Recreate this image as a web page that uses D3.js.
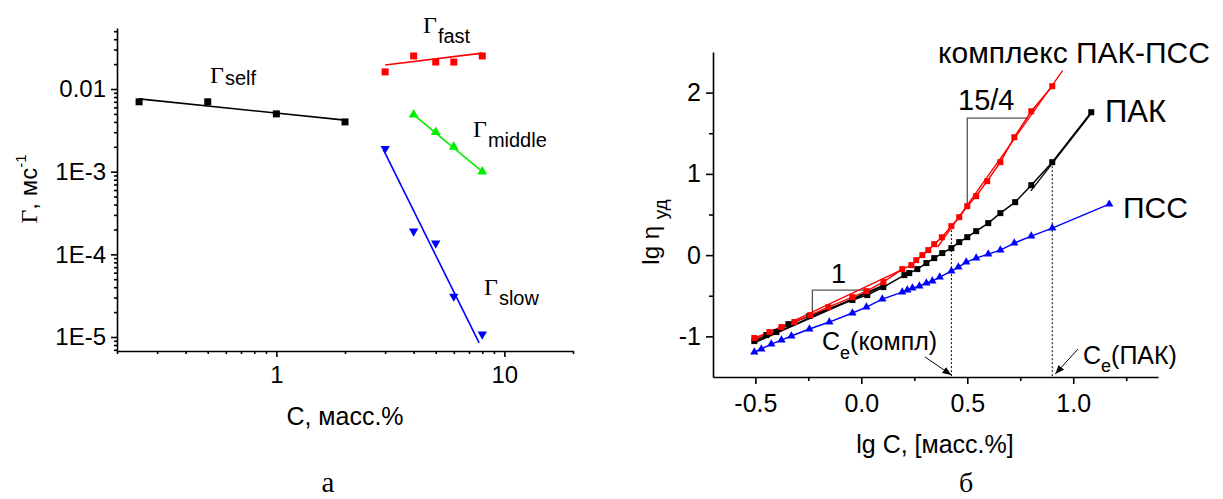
<!DOCTYPE html>
<html>
<head>
<meta charset="utf-8">
<script src="https://cdn.jsdelivr.net/npm/d3@7"></script>
<style>
  body { margin: 0; background: #fff; }
  text { font-family: "Liberation Sans", Arial, sans-serif; fill: #000; }
  .serif { font-family: "Liberation Serif", "Times New Roman", serif; }
  .axis path, .axis line { stroke: #000; stroke-width: 1.6; }
</style>
</head>
<body>
<div id="chart"></div>
<script>
// ---- panel a: relaxation rates vs concentration (log-log) ----
var selfC = [0.25, 0.5, 1, 2];
var selfG = [0.0070, 0.0070, 0.0050, 0.0040];
var fastC = [3, 4, 5, 6, 8];
var fastG = [0.0161, 0.0251, 0.0212, 0.0212, 0.0251];
var middleC = [4, 5, 6, 8];
var middleG = [0.0049, 0.0030, 0.0020, 0.0010];
var slowC = [3, 4, 5, 6, 8];
var slowG = [0.0019, 0.00019, 0.000136, 0.000031, 0.0000108];

// fitted lines, end points [C, Γ]
var selfFit = [[0.25, 0.0076], [2, 0.0042]];
var fastFit = [[3, 0.0195], [8, 0.0272]];
var middleFit = [[4, 0.0049], [8, 0.0010]];
var slowFit = [[2.95, 0.00183], [7.75, 0.0000085]];

var leftXMajor = [1, 10];
var leftXMinor = [0.2, 0.3, 0.4, 0.5, 0.6, 0.7, 0.8, 0.9, 2, 3, 4, 5, 6, 7, 8, 9, 20];
var leftYMajor = [1e-5, 1e-4, 1e-3, 1e-2];
var leftYLabels = ["1E-5", "1E-4", "1E-3", "0.01"];

// ---- panel b: lg η vs lg C ----
var complX = [-0.505, -0.434, -0.377, -0.316, -0.241, -0.156, -0.042, 0.024, 0.104, 0.193, 0.236, 0.259, 0.288,
              0.316, 0.344, 0.38, 0.425, 0.462, 0.5, 0.542, 0.594, 0.656, 0.722, 0.802, 0.901];
var complY = [-1.02, -0.947, -0.886, -0.824, -0.738, -0.64, -0.517, -0.443, -0.332, -0.172, -0.123, -0.062, 0.0,
              0.062, 0.135, 0.22, 0.357, 0.467, 0.603, 0.726, 0.91, 1.144, 1.451, 1.771, 2.079];
var pakX = [-0.505, -0.448, -0.401, -0.344, -0.245, -0.042, 0.028, 0.104, 0.203, 0.226, 0.264, 0.307, 0.344,
            0.382, 0.425, 0.462, 0.5, 0.542, 0.599, 0.656, 0.726, 0.802, 0.901, 1.085];
var pakY = [-1.058, -0.984, -0.947, -0.849, -0.75, -0.553, -0.492, -0.394, -0.246, -0.221, -0.172, -0.098, -0.037,
            0.025, 0.086, 0.16, 0.221, 0.295, 0.394, 0.517, 0.652, 0.861, 1.144, 1.759];
var pssX = [-0.505, -0.472, -0.425, -0.377, -0.33, -0.245, -0.151, -0.042, 0.024, 0.099, 0.193, 0.217, 0.241, 0.274,
            0.307, 0.335, 0.37, 0.425, 0.458, 0.495, 0.542, 0.599, 0.656, 0.722, 0.802, 0.901, 1.17];
var pssY = [-1.193, -1.156, -1.095, -1.046, -0.996, -0.91, -0.824, -0.713, -0.64, -0.541, -0.455, -0.43, -0.406, -0.381,
            -0.344, -0.32, -0.27, -0.197, -0.148, -0.086, -0.037, 0.012, 0.062, 0.148, 0.234, 0.332, 0.627];

var complFitLow = [[-0.5, -1.03], [0.2, -0.17]];
var complFitHigh = [[0.36, 0.1], [0.95, 2.27]];
var pakFitLow = [[-0.5, -1.07], [0.1, -0.38]];
var pakFitHigh = [[0.8, 0.79], [1.09, 1.76]];

var slopeLow = [[-0.231, -0.726], [-0.231, -0.43], [0.024, -0.43]];
var slopeHigh = [[0.5, 0.603], [0.5, 1.685], [0.788, 1.685]];
var ceCompl = 0.425, ceComplTop = 0.357;
var cePak = 0.901, cePakTop = 1.144;

var rightXMajor = [-0.5, 0, 0.5, 1.0];
var rightXLabels = ["-0.5", "0.0", "0.5", "1.0"];
var rightXMinor = [-0.25, 0.25, 0.75, 1.25];
var rightYMajor = [-1, 0, 1, 2];
var rightYLabels = ["-1", "0", "1", "2"];
var rightYMinor = [-0.5, 0.5, 1.5];

var svg = d3.select("#chart").append("svg")
  .attr("width", 1223)
  .attr("height", 499);

var defs = svg.append("defs");
defs.append("marker")
  .attr("id", "arrow")
  .attr("viewBox", "0 0 10 10")
  .attr("refX", 10).attr("refY", 5)
  .attr("markerWidth", 9).attr("markerHeight", 9)
  .attr("markerUnits", "userSpaceOnUse")
  .attr("orient", "auto")
  .append("path")
  .attr("d", "M0,1 L10,5 L0,9 Z")
  .attr("fill", "#000");

function zip(a, b) { return a.map(function(v, i) { return [v, b[i]]; }); }

// =================== panel a ===================
var xL = d3.scaleLog().domain([0.2, 20]).range([117, 573]);
var yL = d3.scaleLog().domain([6.77e-6, 0.0547]).range([351, 28]);

var gA = svg.append("g");

gA.append("g").attr("class", "axis")
  .attr("transform", "translate(0,351)")
  .call(d3.axisBottom(xL).tickValues(leftXMinor).tickSize(3).tickFormat("").tickSizeOuter(0))
  .call(function(g) { g.select(".domain").remove(); });
gA.append("g").attr("class", "axis")
  .attr("transform", "translate(0,351)")
  .call(d3.axisBottom(xL).tickValues(leftXMajor).tickSize(6).tickSizeOuter(0).tickPadding(9)
    .tickFormat(d3.format("d")))
  .call(function(g) { g.selectAll("text").attr("font-size", 24).attr("font-family", null); });

var leftYMinor = [];
[1e-6, 1e-5, 1e-4, 1e-3, 1e-2].forEach(function(d) {
  for (var k = 2; k <= 9; k++) {
    var v = d * k;
    if (v >= 6.77e-6 && v <= 0.0547) leftYMinor.push(v);
  }
});
gA.append("g").attr("class", "axis")
  .attr("transform", "translate(117,0)")
  .call(d3.axisLeft(yL).tickValues(leftYMinor).tickSize(3).tickFormat("").tickSizeOuter(0))
  .call(function(g) { g.select(".domain").remove(); });
gA.append("g").attr("class", "axis")
  .attr("transform", "translate(117,0)")
  .call(d3.axisLeft(yL).tickValues(leftYMajor).tickSize(6).tickSizeOuter(0).tickPadding(5)
    .tickFormat(function(d, i) { return leftYLabels[i]; }))
  .call(function(g) { g.selectAll("text").attr("font-size", 24).attr("font-family", null); });

var lineL = d3.line().x(function(d) { return xL(d[0]); }).y(function(d) { return yL(d[1]); });

function drawFit(g, data, line, color, w) {
  g.append("path").datum(data)
    .attr("d", line)
    .attr("fill", "none")
    .attr("stroke", color)
    .attr("stroke-width", w);
}

function drawMarks(g, pts, sx, sy, type, size, color, rot) {
  g.selectAll(null).data(pts).enter().append("path")
    .attr("d", d3.symbol().type(type).size(size))
    .attr("transform", function(d) {
      return "translate(" + sx(d[0]) + "," + sy(d[1]) + ")" + (rot ? " rotate(180)" : "");
    })
    .attr("fill", color);
}

drawFit(gA, selfFit, lineL, "#000", 1.6);
drawFit(gA, fastFit, lineL, "#ff0000", 1.6);
drawFit(gA, middleFit, lineL, "#00ee00", 1.6);
drawFit(gA, slowFit, lineL, "#0000ff", 1.6);

drawMarks(gA, zip(selfC, selfG), xL, yL, d3.symbolSquare, 49, "#000");
drawMarks(gA, zip(fastC, fastG), xL, yL, d3.symbolSquare, 49, "#ff0000");
drawMarks(gA, zip(middleC, middleG), xL, yL, d3.symbolTriangle, 42, "#00ee00");
drawMarks(gA, zip(slowC, slowG), xL, yL, d3.symbolTriangle, 38, "#0000ff", true);

// Γ labels
var gammaLabels = [
  { x: 210, y: 83, sub: "self", dy: 2 },
  { x: 423, y: 33, sub: "fast", dy: 10 },
  { x: 473, y: 137, sub: "middle", dy: 10 },
  { x: 484, y: 295, sub: "slow", dy: 10 }
];
gammaLabels.forEach(function(l) {
  var t = gA.append("text").attr("x", l.x).attr("y", l.y);
  t.append("tspan").attr("class", "serif").attr("font-size", 24).text("Γ");
  t.append("tspan").attr("font-size", 20).attr("dx", 1).attr("dy", l.dy).text(l.sub);
});

// axis titles
gA.append("text")
  .attr("x", 345).attr("y", 425)
  .attr("text-anchor", "middle")
  .attr("font-size", 25)
  .text("C, масс.%");

var yTitleA = gA.append("text")
  .attr("transform", "translate(37,189) rotate(-90)")
  .attr("text-anchor", "middle")
  .attr("font-size", 24);
yTitleA.append("tspan").attr("class", "serif").text("Γ");
yTitleA.append("tspan").text(", мс");
yTitleA.append("tspan").attr("font-size", 15).attr("dy", -11).text("-1");

gA.append("text")
  .attr("class", "serif")
  .attr("x", 328).attr("y", 492)
  .attr("text-anchor", "middle")
  .attr("font-size", 29)
  .text("а");

// =================== panel b ===================
var xR = d3.scaleLinear().domain([-0.7, 1.4]).range([713, 1158]);
var yR = d3.scaleLinear().domain([-1.5, 2.5]).range([377, 52]);

var gB = svg.append("g");

gB.append("g").attr("class", "axis")
  .attr("transform", "translate(0,377)")
  .call(d3.axisBottom(xR).tickValues(rightXMinor).tickSize(4).tickFormat("").tickSizeOuter(0))
  .call(function(g) { g.select(".domain").remove(); });
gB.append("g").attr("class", "axis")
  .attr("transform", "translate(0,377)")
  .call(d3.axisBottom(xR).tickValues(rightXMajor).tickSize(7).tickSizeOuter(0).tickPadding(10)
    .tickFormat(function(d, i) { return rightXLabels[i]; }))
  .call(function(g) { g.selectAll("text").attr("font-size", 25).attr("font-family", null); });

gB.append("g").attr("class", "axis")
  .attr("transform", "translate(713,0)")
  .call(d3.axisLeft(yR).tickValues(rightYMinor).tickSize(4).tickFormat("").tickSizeOuter(0))
  .call(function(g) { g.select(".domain").remove(); });
gB.append("g").attr("class", "axis")
  .attr("transform", "translate(713,0)")
  .call(d3.axisLeft(yR).tickValues(rightYMajor).tickSize(7).tickSizeOuter(0).tickPadding(5)
    .tickFormat(function(d, i) { return rightYLabels[i]; }))
  .call(function(g) { g.selectAll("text").attr("font-size", 25).attr("font-family", null); });

var lineR = d3.line().x(function(d) { return xR(d[0]); }).y(function(d) { return yR(d[1]); });

// dotted C_e markers
[[ceCompl, ceComplTop], [cePak, cePakTop]].forEach(function(c) {
  gB.append("line")
    .attr("x1", xR(c[0])).attr("x2", xR(c[0]))
    .attr("y1", yR(c[1])).attr("y2", yR(-1.5))
    .attr("stroke", "#000").attr("stroke-width", 1)
    .attr("stroke-dasharray", "2,2");
});

// slope brackets
drawFit(gB, slopeLow, lineR, "#555", 1.3);
drawFit(gB, slopeHigh, lineR, "#555", 1.3);

// connecting lines and fits
drawFit(gB, zip(pssX, pssY), lineR, "#0000ff", 1.5);
drawFit(gB, zip(pakX, pakY), lineR, "#000", 1.5);
drawFit(gB, zip(complX, complY), lineR, "#ff0000", 1.5);
drawFit(gB, complFitLow, lineR, "#ff0000", 1.3);
drawFit(gB, complFitHigh, lineR, "#ff0000", 1.3);
drawFit(gB, pakFitLow, lineR, "#000", 2);
drawFit(gB, pakFitHigh, lineR, "#000", 1.3);

drawMarks(gB, zip(pssX, pssY), xR, yR, d3.symbolTriangle, 30, "#0000ff");
drawMarks(gB, zip(pakX, pakY), xR, yR, d3.symbolSquare, 36, "#000");
drawMarks(gB, zip(complX, complY), xR, yR, d3.symbolSquare, 36, "#ff0000");

// series labels
gB.append("text").attr("x", 938).attr("y", 63).attr("font-size", 30).text("комплекс ПАК-ПСС");
gB.append("text").attr("x", 1105).attr("y", 122).attr("font-size", 31).text("ПАК");
gB.append("text").attr("x", 1123).attr("y", 218).attr("font-size", 30).text("ПСС");
gB.append("text").attr("x", 958).attr("y", 110).attr("font-size", 29).text("15/4");
gB.append("text").attr("x", 831).attr("y", 283).attr("font-size", 27).text("1");

// C_e annotations
var ce1 = gB.append("text").attr("x", 822).attr("y", 350).attr("font-size", 25);
ce1.append("tspan").text("C");
ce1.append("tspan").attr("font-size", 18).attr("dy", 9).text("e");
ce1.append("tspan").attr("dy", -9).text("(компл)");
var ce2 = gB.append("text").attr("x", 1083).attr("y", 364).attr("font-size", 25);
ce2.append("tspan").text("C");
ce2.append("tspan").attr("font-size", 18).attr("dy", 8).text("e");
ce2.append("tspan").attr("dy", -8).text("(ПАК)");

gB.append("line")
  .attr("x1", 925).attr("y1", 357).attr("x2", xR(ceCompl)).attr("y2", 375)
  .attr("stroke", "#000").attr("stroke-width", 1).attr("marker-end", "url(#arrow)");
gB.append("line")
  .attr("x1", 1078).attr("y1", 349).attr("x2", xR(cePak) + 3).attr("y2", 374)
  .attr("stroke", "#000").attr("stroke-width", 1).attr("marker-end", "url(#arrow)");

// axis titles
gB.append("text")
  .attr("x", 935).attr("y", 453)
  .attr("text-anchor", "middle")
  .attr("font-size", 25)
  .text("lg C, [масс.%]");

var yTitleB = gB.append("text")
  .attr("transform", "translate(659,232) rotate(-90)")
  .attr("text-anchor", "middle")
  .attr("font-size", 24);
yTitleB.append("tspan").text("lg η ");
yTitleB.append("tspan").attr("font-size", 19).attr("dy", 8).text("уд");

gB.append("text")
  .attr("class", "serif")
  .attr("x", 966).attr("y", 492)
  .attr("text-anchor", "middle")
  .attr("font-size", 28)
  .text("б");
</script>
</body>
</html>
